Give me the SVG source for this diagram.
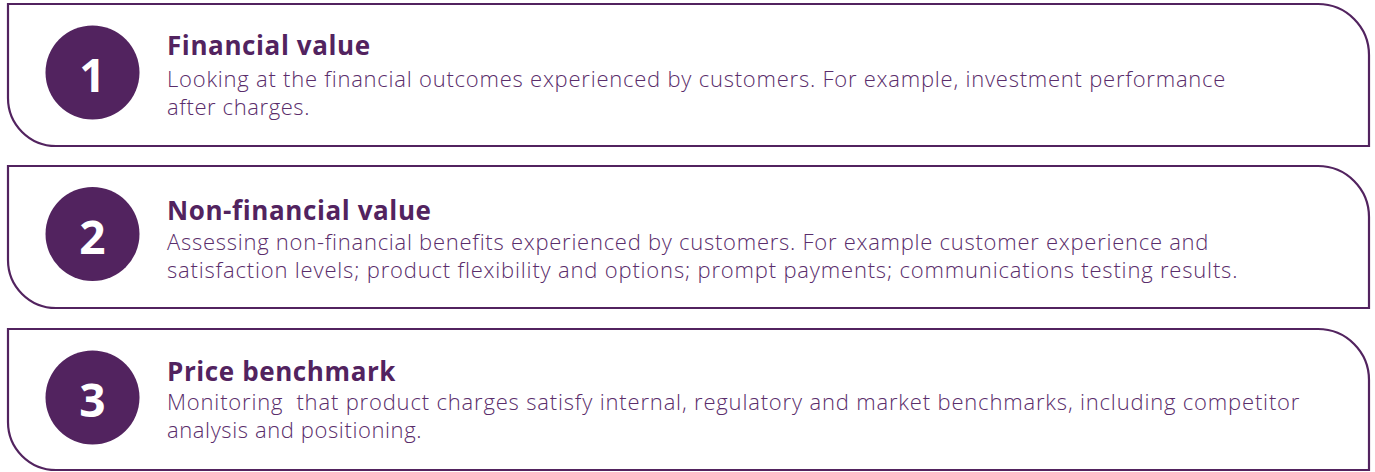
<svg xmlns="http://www.w3.org/2000/svg" width="1375" height="472" viewBox="0 0 1375 472">
<style>
.box{fill:#fff;stroke:#52235f;stroke-width:2.2}
.num{fill:#52235f}
.n{font-family:"Open Sans",sans-serif;font-weight:700;font-size:46px;fill:#fff;text-anchor:middle}
.t{font-family:"Open Sans",sans-serif;font-weight:700;font-size:26px;fill:#52235f;letter-spacing:0.6px}
.b{font-family:"Open Sans",sans-serif;font-weight:300;font-size:22px;fill:#5a2d6b;letter-spacing:0.6px}
</style>
<rect width="1375" height="472" fill="#fff"/>
<g id="node1">
<path class="box" d="M8 4 H1318 A51 51 0 0 1 1369 55 V146 H56 A48 48 0 0 1 8 98 Z"/>
<circle class="num" cx="92.5" cy="72.5" r="47"/>
<text class="n" x="92.5" y="92">1</text>
<text class="t" x="167" y="55">Financial value</text>
<text class="b" x="167" y="86.5" textLength="1059" lengthAdjust="spacing">Looking at the financial outcomes experienced by customers. For example, investment performance</text>
<text class="b" x="167" y="114.5">after charges.</text>
</g>
<g id="node2">
<path class="box" d="M8 166 H1318 A51 51 0 0 1 1369 217 V308 H56 A48 48 0 0 1 8 260 Z"/>
<circle class="num" cx="92.5" cy="234" r="47"/>
<text class="n" x="92.5" y="254">2</text>
<text class="t" x="167" y="220">Non-financial value</text>
<text class="b" x="167" y="249.5" textLength="1042" lengthAdjust="spacing">Assessing non-financial benefits experienced by customers. For example customer experience and</text>
<text class="b" x="167" y="277.5" textLength="1071" lengthAdjust="spacing">satisfaction levels; product flexibility and options; prompt payments; communications testing results.</text>
</g>
<g id="node3">
<path class="box" d="M8 329 H1318 A51 51 0 0 1 1369 380 V470 H56 A48 48 0 0 1 8 422 Z"/>
<circle class="num" cx="92.5" cy="397.5" r="47"/>
<text class="n" x="92.5" y="417">3</text>
<text class="t" x="167" y="381">Price benchmark</text>
<text class="b" x="167" y="410" xml:space="preserve" textLength="1133" lengthAdjust="spacing">Monitoring  that product charges satisfy internal, regulatory and market benchmarks, including competitor</text>
<text class="b" x="167" y="438">analysis and positioning.</text>
</g>
<g id="connectors"/>
</svg>
